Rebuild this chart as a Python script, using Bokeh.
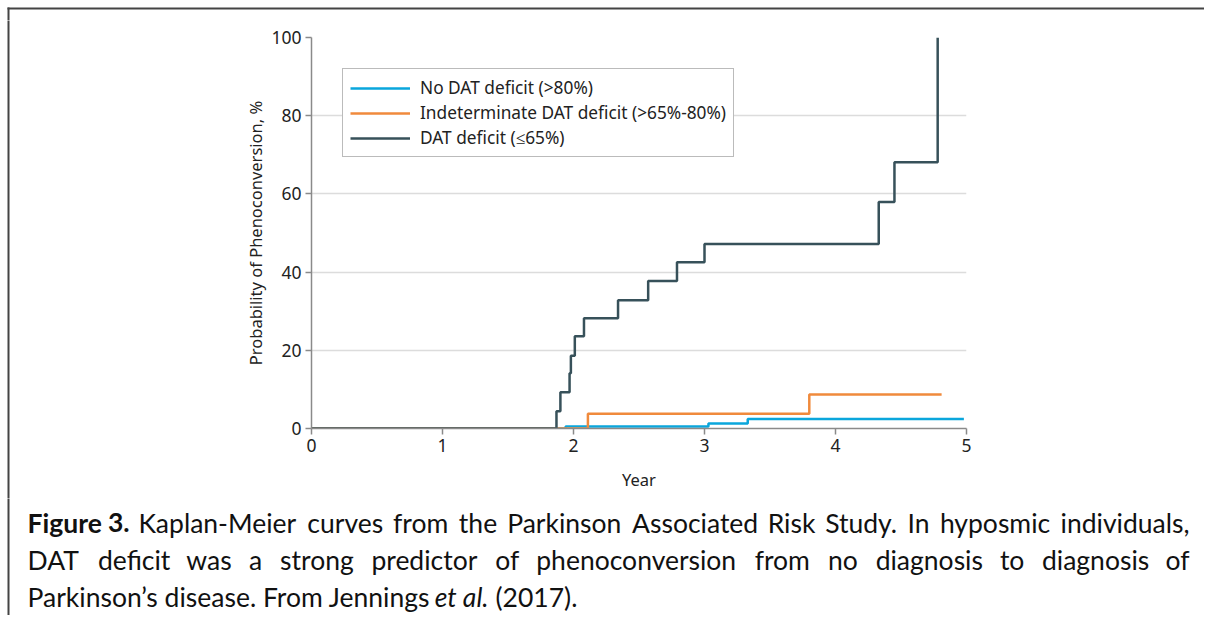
from bokeh.plotting import figure
from bokeh.models import Range1d, FixedTicker, ColumnDataSource
from bokeh.layouts import column, row
from bokeh.core.properties import value
from bokeh.embed import file_html
from bokeh.resources import INLINE

# ---------------- data ----------------
no_def_t = [0, 1.94, 3.03, 3.33, 4.98]
no_def_p = [0, 0.5, 1.3, 2.4, 2.4]

indet_t = [0, 2.11, 3.80, 4.81]
indet_p = [0, 3.8, 8.7, 8.7]

dat_t = [0, 1.87, 1.90, 1.97, 1.98, 2.01, 2.08, 2.34, 2.57, 2.79, 3.00, 4.33, 4.45, 4.78]
dat_p = [0, 4.4, 9.3, 14.1, 18.6, 23.6, 28.2, 32.8, 37.7, 42.5, 47.2, 57.9, 68.1, 100]

series_labels = ["No DAT deficit (>80%)", "Indeterminate DAT deficit (>65%-80%)", "DAT deficit (\u226465%)"]
series_colors = ["#0aa6dc", "#f08a3c", "#37515a"]

x_ticks = [0, 1, 2, 3, 4, 5]
y_ticks = [0, 20, 40, 60, 80, 100]

caption_line1 = [("Figure", "bold"), ("3.", "bold"), ("Kaplan-Meier", "normal"), ("curves", "normal"),
                 ("from", "normal"), ("the", "normal"), ("Parkinson", "normal"), ("Associated", "normal"),
                 ("Risk", "normal"), ("Study.", "normal"), ("In", "normal"), ("hyposmic", "normal"),
                 ("individuals,", "normal")]
caption_line2 = "DAT deficit was a strong predictor of phenoconversion from no diagnosis to diagnosis of".split()
caption_line3 = [("Parkinson\u2019s disease. From Jennings", "normal"), ("et al.", "italic"), ("(2017).", "normal")]

FONT = "Noto Sans"
CAP_FONT = "Lato"
CAP_SIZE = 26.5
BORDER = "#444444"

ORIGIN = 1          # page position of the layout's top-left corner
W = 1204
TOP_H, CHART_H, CAP_H = 20, 478, 117
STRIP_W = 60
FRAME_L, FRAME_R, FRAME_T, FRAME_B = 312, 967, 38, 429   # page px of the plotting frame
BX0, BX1 = 8, 10    # page px of the border lines


def blank(width, height):
    f = figure(width=width, height=height, x_range=Range1d(0, width), y_range=Range1d(height, 0),
               output_backend="svg", toolbar_location=None, x_axis_type=None, y_axis_type=None,
               min_border=0)
    f.outline_line_color = None
    f.grid.visible = False
    f.frame_align = False
    f.background_fill_color = "white"
    f.border_fill_color = "white"
    return f


# ---------------- top border strip ----------------
top = blank(W, TOP_H)
top.quad(left=[BX0 - ORIGIN], right=[W], top=[BX0 - ORIGIN], bottom=[BX1 - ORIGIN], color=BORDER, line_color=None)
top.quad(left=[BX0 - ORIGIN], right=[BX1 - ORIGIN], top=[BX0 - ORIGIN], bottom=[TOP_H + 5], color=BORDER, line_color=None)

# ---------------- left border strip beside the chart ----------------
left = blank(STRIP_W, CHART_H)
left.quad(left=[BX0 - ORIGIN], right=[BX1 - ORIGIN], top=[-5], bottom=[CHART_H + 5], color=BORDER, line_color=None)

# ---------------- chart ----------------
chart_x0 = ORIGIN + STRIP_W
chart_y0 = ORIGIN + TOP_H
CHART_W = W - STRIP_W
p = figure(width=CHART_W, height=CHART_H, x_range=Range1d(0, 5), y_range=Range1d(0, 100),
           output_backend="svg", toolbar_location=None,
           min_border_left=FRAME_L - chart_x0, min_border_right=CHART_W - (FRAME_R - chart_x0),
           min_border_top=FRAME_T - chart_y0, min_border_bottom=CHART_H - (FRAME_B - chart_y0))
p.frame_align = False
p.outline_line_color = None
p.background_fill_color = "white"
p.border_fill_color = "white"

p.step(no_def_t, no_def_p, mode="after", line_width=2.5, color=series_colors[0], legend_label=series_labels[0])
p.step(indet_t, indet_p, mode="after", line_width=2.5, color=series_colors[1], legend_label=series_labels[1])
p.step(dat_t, dat_p, mode="after", line_width=2.5, color=series_colors[2], legend_label=series_labels[2])

p.xaxis.ticker = FixedTicker(ticks=x_ticks)
p.yaxis.ticker = FixedTicker(ticks=y_ticks)
for ax in (p.xaxis, p.yaxis):
    ax.axis_line_color = "#8a8a8a"
    ax.axis_line_width = 1.5
    ax.major_tick_line_color = "#8a8a8a"
    ax.major_tick_line_width = 1.5
    ax.major_tick_out = 6
    ax.major_tick_in = 0
    ax.minor_tick_line_color = None
    ax.major_label_text_font = FONT
    ax.major_label_text_font_size = "17.5px"
    ax.major_label_text_color = "#222222"
    ax.axis_label_text_font = FONT
    ax.axis_label_text_font_size = "16.5px"
    ax.axis_label_text_font_style = "normal"
    ax.axis_label_text_color = "#222222"
p.xaxis.axis_label = "Year"
p.yaxis.axis_label = "Probability of Phenoconversion, %"
p.xaxis.major_label_standoff = 4
p.xaxis.axis_label_standoff = 13
p.yaxis.major_label_standoff = 4
p.yaxis.axis_label_standoff = 1

p.xgrid.grid_line_color = None
p.ygrid.grid_line_color = "#dcdcdc"
p.ygrid.grid_line_width = 1.5

lg = p.legend[0]
lg.location = "top_left"
lg.margin = 31
lg.padding = 7
lg.spacing = 2
lg.glyph_width = 60
lg.glyph_height = 20
lg.label_height = 20
lg.label_standoff = 10
lg.label_text_font = FONT
lg.label_text_font_size = "17.3px"
lg.label_text_color = "#222222"
lg.border_line_color = "#777777"
lg.border_line_width = 1
lg.background_fill_alpha = 1

# ---------------- caption ----------------
cap = blank(W, CAP_H)
cap_y0 = ORIGIN + TOP_H + CHART_H
cap.quad(left=[BX0 - ORIGIN], right=[BX1 - ORIGIN], top=[-5], bottom=[CAP_H + 5], color=BORDER, line_color=None)

EM = {' ': 0.193, 'a': 0.50, 'b': 0.56, 'c': 0.46, 'd': 0.56, 'e': 0.52, 'f': 0.31, 'g': 0.50,
      'h': 0.57, 'i': 0.235, 'j': 0.235, 'k': 0.50, 'l': 0.235, 'm': 0.85, 'n': 0.56, 'o': 0.57,
      'p': 0.57, 'q': 0.56, 'r': 0.37, 's': 0.43, 't': 0.35, 'u': 0.56, 'v': 0.51, 'w': 0.77,
      'x': 0.49, 'y': 0.53, 'z': 0.45, 'A': 0.68, 'D': 0.73, 'F': 0.52, 'J': 0.38, 'K': 0.71,
      'M': 0.90, 'P': 0.60, 'R': 0.62, 'S': 0.52, 'I': 0.28, 'C': 0.65, 'T': 0.58,
      '.': 0.2, ',': 0.2, '-': 0.37, '(': 0.3, ')': 0.3}


def wwidth(word, bold=False):
    w = sum(EM.get(c, 0.58) for c in word) * CAP_SIZE
    return w * (0.98 if bold else 1.0)


groups = {}


def put(page_x, page_y, text, style="normal", align="left"):
    groups.setdefault((style, align), []).append((page_x - ORIGIN, page_y - cap_y0, text))


LEFT, RIGHT = 28, 1190


def justify(words, page_y):
    widths = [wwidth(w, s == "bold") for w, s in words]
    gap = (RIGHT - LEFT - sum(widths)) / (len(words) - 1)
    x = LEFT
    for i, ((w, s), ww) in enumerate(zip(words, widths)):
        if i == len(words) - 1:
            put(RIGHT, page_y, w, s, "right")
        else:
            put(x, page_y, w, s, "left")
        x += ww + gap


justify(caption_line1, 523)
justify([(w, "normal") for w in caption_line2], 560)
x3 = LEFT
line3_gaps = [0.0, 0.3]   # spacing after each piece, em (compensates the width estimate)
for (txt, st), g in zip(caption_line3, line3_gaps + [0]):
    put(x3, 597, txt, st)
    x3 += wwidth(txt) + g * CAP_SIZE

for (style, align), items in groups.items():
    src = ColumnDataSource(dict(x=[a[0] for a in items], y=[a[1] for a in items], t=[a[2] for a in items]))
    cap.text(x="x", y="y", text="t", source=src, text_font=value(CAP_FONT),
             text_font_size=f"{CAP_SIZE}px", text_font_style=style, text_align=align,
             text_baseline="middle", text_color="#111111")

layout = column(top, row(left, p, spacing=0), cap, spacing=0)

open("out.html", "w").write(file_html(layout, INLINE))
